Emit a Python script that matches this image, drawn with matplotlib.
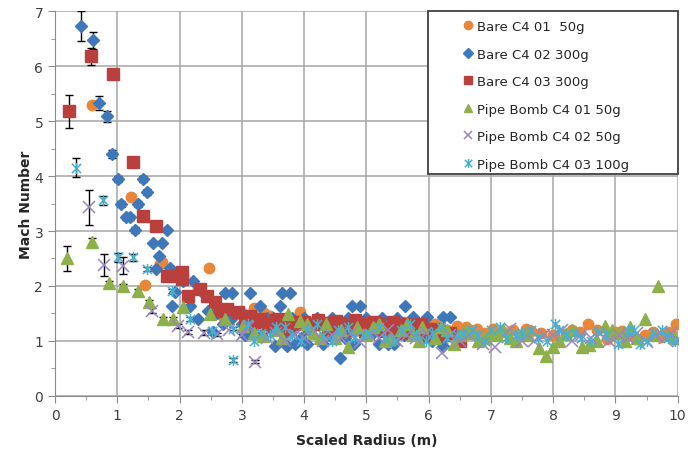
import matplotlib
matplotlib.use("Agg")
import matplotlib.pyplot as plt
from matplotlib.path import Path
from matplotlib.patches import Rectangle
from matplotlib.ticker import MultipleLocator

plt.rcParams['font.family'] = ['DejaVu Sans']

# Bare C4 01 50g
orange_x = [0.59, 1.22, 1.44, 1.69, 1.72, 2.47, 2.30, 2.60, 2.80, 3.00, 3.20, 3.45, 3.65, 3.93,
            4.20, 4.45, 4.70, 4.95, 5.20, 5.45, 5.70, 5.95, 6.20, 6.45, 6.77, 7.03, 7.20, 7.57,
            7.65, 8.00, 8.20, 8.43, 8.56, 8.86, 9.00, 9.10, 9.34, 9.47, 9.60, 9.74, 9.84, 9.97,
            2.70, 3.10, 3.35, 3.55, 3.80, 4.10, 4.35, 4.60, 4.85, 5.10, 5.35, 5.60, 5.85, 6.10,
            6.30, 6.60, 6.90, 7.35, 7.80, 8.30, 8.70, 9.20, 9.90]
orange_y = [5.30, 3.62, 2.02, 2.40, 2.44, 2.33, 1.95, 1.60, 1.55, 1.50, 1.60, 1.45, 1.40, 1.53,
            1.38, 1.35, 1.30, 1.35, 1.28, 1.30, 1.25, 1.30, 1.22, 1.27, 1.22, 1.22, 1.16, 1.22,
            1.18, 1.10, 1.13, 1.16, 1.30, 1.04, 1.16, 1.18, 1.04, 1.10, 1.16, 1.07, 1.16, 1.30,
            1.45, 1.35, 1.50, 1.30, 1.30, 1.25, 1.30, 1.25, 1.20, 1.25, 1.20, 1.35, 1.20, 1.30,
            1.20, 1.25, 1.15, 1.20, 1.15, 1.20, 1.20, 1.10, 1.15]

# Bare C4 02 300g
blue_x = [0.42, 0.61, 0.71, 0.83, 0.91, 1.01, 1.41, 1.48, 1.06, 1.34, 1.14, 1.20, 1.29, 1.80,
          1.58, 1.71, 1.67, 1.85,
          1.62, 2.05, 2.21, 1.93, 2.36, 2.73, 2.84, 3.13, 3.64, 3.77, 1.88, 2.17, 3.29, 3.61,
          4.77, 4.90, 5.62, 2.54, 2.30, 2.45, 2.60, 2.70, 2.85, 3.00, 3.05, 3.20, 3.40, 3.53,
          3.50, 3.60, 3.72, 3.80, 3.90, 4.00, 4.10, 4.20, 4.30, 4.35, 4.45, 4.57, 4.60, 4.70,
          4.80, 4.85, 5.00, 5.10, 5.20, 5.25, 5.35, 5.40, 5.50, 5.60, 5.75, 5.85, 5.97, 6.05,
          6.23, 6.34, 6.23, 6.40, 6.47,
          3.10, 3.30, 3.45, 3.70, 3.95, 4.15, 4.40, 4.65, 4.95, 5.15, 5.45, 5.70, 5.90, 6.15,
          3.85, 4.05, 5.45]
blue_y = [6.73, 6.47, 5.33, 5.09, 4.40, 3.95, 3.95, 3.71, 3.49, 3.49, 3.25, 3.25, 3.02, 3.02,
          2.78, 2.78, 2.55, 2.33,
          2.31, 2.09, 2.09, 1.89, 1.89, 1.87, 1.87, 1.87, 1.87, 1.87, 1.64, 1.64, 1.64, 1.64,
          1.64, 1.64, 1.64, 1.16, 1.40, 1.55, 1.50, 1.30, 1.42, 1.30, 1.10, 1.25, 1.42, 0.91,
          1.42, 1.20, 0.91, 1.42, 1.30, 1.42, 1.20, 1.42, 0.95, 1.30, 1.42, 0.69, 1.20, 1.42,
          0.95, 1.30, 1.42, 1.15, 0.95, 1.42, 0.95, 1.25, 1.42, 1.10, 1.44, 1.20, 1.44, 1.00,
          1.44, 1.44, 0.91, 1.15, 1.05,
          1.20, 1.10, 1.30, 1.15, 1.05, 1.30, 1.10, 1.05, 1.20, 1.30, 1.05, 1.30, 1.05, 1.20,
          0.95, 0.95, 0.95]
blue_err = [0.27, 0.15, 0.13, 0.10, 0.08, 0.06, 0.05, 0.05, 0.06, 0.05, 0.05, 0.05, 0.05, 0.04,
            0.04, 0.04, 0.03, 0.03]

# Bare C4 03 300g
red_x = [0.22, 0.58, 0.93, 1.25, 1.41, 1.62, 1.80, 1.96, 2.04, 2.04, 2.14, 2.33, 2.44, 2.57,
         2.65, 2.76, 2.94, 3.05, 3.13, 3.29, 3.40, 3.55, 3.70, 3.85, 4.00, 4.15, 4.30, 4.45,
         4.60, 4.75, 4.90, 5.05, 5.20, 5.35, 5.50, 5.65, 5.80, 5.95, 6.07, 6.25, 6.50,
         3.20, 3.48, 3.62, 3.78, 3.92, 4.08, 4.22, 4.38, 4.52, 4.68, 4.82, 4.98, 5.12, 5.28,
         5.42, 5.58, 5.72, 5.88, 6.00, 6.15, 6.35]
red_y = [5.18, 6.18, 5.85, 4.25, 3.27, 3.09, 2.18, 2.18, 2.25, 2.13, 1.82, 1.95, 1.82, 1.71,
         1.55, 1.58, 1.53, 1.40, 1.45, 1.40, 1.30, 1.38, 1.30, 1.35, 1.35, 1.30, 1.32, 1.28,
         1.30, 1.26, 1.32, 1.25, 1.30, 1.24, 1.28, 1.31, 1.25, 1.20, 1.22, 1.10, 1.00,
         1.35, 1.25, 1.40, 1.22, 1.30, 1.22, 1.38, 1.20, 1.36, 1.20, 1.38, 1.18, 1.35, 1.18,
         1.35, 1.15, 1.20, 1.30, 1.12, 1.20, 1.15]
red_err = [0.30, 0.15, 0.08, 0.05, 0.05, 0.04]

# Pipe Bomb C4 01 50g
green_x = [0.19, 0.60, 0.87, 1.09, 1.33, 1.51, 1.73, 1.89, 2.05, 2.49, 2.73, 3.02, 3.34, 3.74,
           3.93, 3.55, 4.15, 4.35, 4.50, 4.70, 4.85, 5.00, 5.20, 5.40, 5.55, 5.75, 5.90, 6.10,
           6.30, 6.50, 6.70, 6.90, 7.10, 7.30, 7.50, 7.78, 7.88, 8.00, 8.20, 8.46, 8.57, 8.83,
           9.05, 9.23, 9.47, 9.68, 9.85,
           6.60, 6.80, 7.00, 7.20, 7.40, 7.60, 8.10, 8.30, 8.70, 8.95, 9.15, 9.35, 9.60, 9.95,
           3.20, 3.65, 4.05, 4.25, 4.60, 5.10, 5.30, 5.65, 5.85, 6.20, 6.40]
green_y = [2.50, 2.80, 2.05, 2.00, 1.91, 1.71, 1.40, 1.40, 1.62, 1.49, 1.40, 1.27, 1.09, 1.49,
           1.36, 1.20, 1.15, 1.30, 1.05, 0.89, 1.25, 1.10, 1.30, 1.05, 1.20, 1.10, 1.25, 1.05,
           1.20, 1.10, 1.15, 1.05, 1.10, 1.05, 1.15, 0.87, 0.73, 0.89, 1.13, 0.89, 0.93, 1.27,
           1.15, 1.25, 1.40, 2.00, 1.10,
           1.20, 1.00, 1.15, 1.20, 1.00, 1.10, 1.00, 1.20, 1.00, 1.20, 1.00, 1.05, 1.10, 1.05,
           1.15, 1.05, 1.30, 1.05, 1.20, 1.25, 1.00, 1.30, 1.00, 1.25, 0.95]
green_err = [0.23, 0.08, 0.04, 0.04, 0.04, 0.04, 0.03, 0.03]

# Pipe Bomb C4 02 50g
purple_x = [0.55, 0.79, 1.09, 1.56, 1.97, 2.13, 2.40, 2.60, 3.21, 3.00, 3.40, 3.70, 4.00, 4.30,
            4.60, 4.90, 5.20, 5.50, 5.80, 6.21, 6.50, 6.87, 7.06, 7.30, 7.70, 8.00, 8.30, 8.60,
            8.90, 9.20, 9.50, 9.80, 10.00,
            2.80, 3.10, 3.55, 3.85, 4.15, 4.45, 4.75, 5.05, 5.35, 5.65, 5.95, 6.35, 6.65, 7.50,
            7.85, 8.15, 8.45, 8.75, 9.05, 9.35, 9.65, 9.90]
purple_y = [3.43, 2.38, 2.37, 1.55, 1.27, 1.16, 1.15, 1.12, 0.62, 1.10, 1.05, 1.00, 1.05, 1.00,
            1.05, 0.98, 1.05, 1.00, 1.05, 0.78, 1.00, 0.95, 0.89, 1.22, 1.00, 1.10, 1.00, 1.05,
            1.00, 1.05, 0.98, 1.05, 1.00,
            1.20, 1.25, 1.15, 1.10, 1.20, 1.10, 1.15, 1.10, 1.20, 1.10, 1.15, 1.10, 1.10, 1.00,
            1.10, 1.20, 1.10, 1.15, 1.10, 1.15, 1.10, 1.15]
purple_err = [0.32, 0.20, 0.15, 0.05, 0.04, 0.04, 0.04, 0.03, 0.03, 0.03]

# Pipe Bomb C4 03 100g
cyan_x = [0.34, 0.77, 1.01, 1.25, 1.48, 1.88, 2.17, 2.52, 2.86, 2.86, 3.10, 3.30, 3.55, 3.80,
          4.05, 4.30, 4.55, 4.80, 5.05, 5.30, 5.55, 5.80, 6.05, 6.30, 6.55, 6.80, 7.00, 7.25,
          7.50, 7.75, 8.03, 8.20, 8.45, 8.70, 9.04, 9.20, 9.40, 9.60, 9.85,
          3.20, 3.45, 3.70, 3.95, 4.20, 4.45, 4.70, 4.95, 5.20, 5.45, 5.70, 5.95, 6.20, 6.45,
          6.70, 6.90, 7.15, 7.40, 7.65, 7.90, 8.10, 8.35, 8.60, 8.85, 9.30, 9.50, 9.75, 9.95]
cyan_y = [4.15, 3.56, 2.52, 2.52, 2.31, 1.91, 1.40, 1.18, 1.22, 0.65, 1.30, 1.15, 1.25, 1.10,
          1.20, 1.10, 1.20, 1.05, 1.15, 1.05, 1.20, 1.10, 1.15, 1.05, 1.15, 1.10, 1.20, 1.05,
          1.15, 1.05, 1.31, 1.10, 1.05, 1.18, 0.95, 1.18, 0.95, 1.15, 1.05,
          1.00, 1.10, 1.25, 1.00, 1.30, 1.00, 1.25, 1.10, 1.25, 1.00, 1.30, 1.00, 1.25, 1.10,
          1.20, 1.00, 1.25, 1.10, 1.20, 1.00, 1.20, 1.15, 1.00, 1.10, 1.20, 1.00, 1.20, 1.00]
cyan_err = [0.17, 0.08, 0.08, 0.06, 0.04, 0.04, 0.04, 0.03, 0.03, 0.03]

labels = ['Bare C4 01  50g', 'Bare C4 02 300g', 'Bare C4 03 300g',
          'Pipe Bomb C4 01 50g', 'Pipe Bomb C4 02 50g', 'Pipe Bomb C4 03 100g']

# Excel style "star" marker: an X with a vertical stroke
star = Path([(-1, -1), (1, 1), (-1, 1), (1, -1), (0, -1.2), (0, 1.2)],
            [Path.MOVETO, Path.LINETO, Path.MOVETO, Path.LINETO, Path.MOVETO, Path.LINETO])

fig = plt.figure(figsize=(6.88, 4.52), dpi=100)
ax = fig.add_axes([0.080, 0.122, 0.905, 0.851])

series = [
    (orange_x, orange_y, [], dict(marker='o', ms=7.5, color='#E8873A', ls='none', mec='#E8873A')),
    (blue_x, blue_y, blue_err, dict(marker='D', ms=6.5, color='#3F78BA', ls='none', mec='#3F78BA')),
    (red_x, red_y, red_err, dict(marker='s', ms=8, color='#B9403D', ls='none', mec='#B9403D')),
    (green_x, green_y, green_err, dict(marker='^', ms=8, color='#8DB04A', ls='none', mec='#8DB04A')),
    (purple_x, purple_y, purple_err, dict(marker='x', ms=8, color='#9A84C4', ls='none', mew=1.1)),
    (cyan_x, cyan_y, cyan_err, dict(marker=star, ms=8, color='#45B0D0', ls='none', mew=1.1, fillstyle='none')),
]

handles = []
for (sx, sy, err, style), lab in zip(series, labels):
    n = len(err)
    if n:
        ax.errorbar(sx[:n], sy[:n], yerr=err, fmt='none', ecolor='black',
                    elinewidth=1, capsize=3, capthick=1, zorder=2)
    h, = ax.plot(sx, sy, label=lab, zorder=3, **style)
    handles.append(h)

ax.set_xlim(0, 10)
ax.set_ylim(0, 7)
ax.xaxis.set_major_locator(MultipleLocator(1))
ax.xaxis.set_minor_locator(MultipleLocator(0.5))
ax.yaxis.set_major_locator(MultipleLocator(1))
ax.yaxis.set_minor_locator(MultipleLocator(0.5))
ax.grid(True, which='major', color='#A6A6A6', lw=1.1, zorder=0)
ax.set_axisbelow(True)
for side in ['top', 'right']:
    ax.spines[side].set_visible(False)
for side in ['left', 'bottom']:
    ax.spines[side].set_color('#8C8C8C')
ax.tick_params(which='major', direction='out', length=5, color='#8C8C8C',
               labelsize=10, labelcolor='#404040')
ax.tick_params(which='minor', direction='out', length=3, color='#8C8C8C')
ax.set_xlabel('Scaled Radius (m)', fontsize=10, fontweight='bold', color='#262626', labelpad=8)
ax.set_ylabel('Mach Number', fontsize=10, fontweight='bold', color='#262626', labelpad=1)

# legend box
ax.add_patch(Rectangle((0.599, 0.577), 0.401, 0.423, transform=ax.transAxes,
                       facecolor='white', edgecolor='#404040', lw=1.3,
                       clip_on=False, zorder=5))
leg = ax.legend(handles=handles, loc='upper left', bbox_to_anchor=(0.655, 0.977),
                frameon=False, fontsize=9.5, handlelength=0.8, handletextpad=0.25,
                borderpad=0, labelspacing=1.1, borderaxespad=0, markerscale=0.8)
leg.set_zorder(6)
for t in leg.get_texts():
    t.set_color('#262626')

fig.savefig('out.png', dpi=100)
